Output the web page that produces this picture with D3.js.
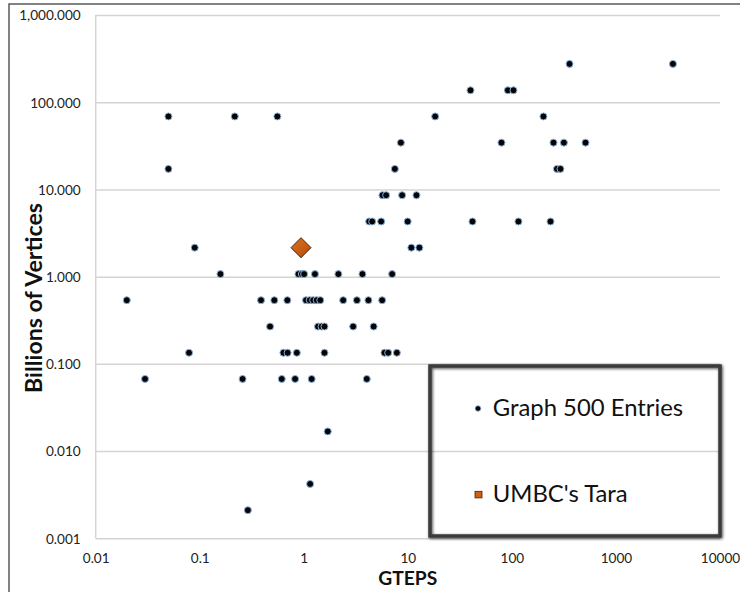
<!DOCTYPE html>
<html>
<head>
<meta charset="utf-8">
<script src="https://cdn.jsdelivr.net/npm/d3@7"></script>
<style>
  html, body { margin: 0; padding: 0; background: #fff; }
  svg { display: block; }
</style>
</head>
<body>
<svg id="chart" width="740" height="592"></svg>
<script>
// ---- Data ----
const g500Gteps = [
  358, 3530,
  40, 91.5, 103.5,
  0.05, 0.217, 0.557, 18.3, 201,
  8.57, 79.4, 251, 316, 510,
  0.05, 7.5, 271, 293,
  5.7, 6.18, 8.81, 12.1,
  4.25, 4.54, 5.54, 9.96, 41.8, 115.6, 235,
  0.0895, 10.8, 12.9,
  0.158, 0.888, 0.957, 1.007, 1.28, 2.15, 3.66, 7.06,
  0.0199, 0.388, 0.521, 0.695, 1.05, 1.14, 1.23, 1.33, 1.44, 2.39, 3.24, 4.18, 5.66,
  0.474, 1.37, 1.48, 1.58, 2.98, 4.69,
  0.0789, 0.637, 0.699, 0.857, 1.58, 5.96, 6.47, 7.84,
  0.0298, 0.258, 0.614, 0.825, 1.19, 4.03,
  1.70,
  1.15,
  0.29
];
const g500Vertices = [
  275, 275,
  137, 137, 137,
  68.7, 68.7, 68.7, 68.7, 68.7,
  34.4, 34.4, 34.4, 34.4, 34.4,
  17.2, 17.2, 17.2, 17.2,
  8.59, 8.59, 8.59, 8.59,
  4.29, 4.29, 4.29, 4.29, 4.29, 4.29, 4.29,
  2.15, 2.15, 2.15,
  1.07, 1.07, 1.07, 1.07, 1.07, 1.07, 1.07, 1.07,
  0.537, 0.537, 0.537, 0.537, 0.537, 0.537, 0.537, 0.537, 0.537, 0.537, 0.537, 0.537, 0.537,
  0.268, 0.268, 0.268, 0.268, 0.268, 0.268,
  0.134, 0.134, 0.134, 0.134, 0.134, 0.134, 0.134, 0.134,
  0.0671, 0.0671, 0.0671, 0.0671, 0.0671, 0.0671,
  0.0168,
  0.0042,
  0.0021
];
const taraGteps = [0.94];
const taraVertices = [2.15];

const xTicks = [0.01, 0.1, 1, 10, 100, 1000, 10000];
const xTickLabels = ["0.01", "0.1", "1", "10", "100", "1000", "10000"];
const yTicks = [0.001, 0.01, 0.1, 1, 10, 100, 1000];
const seriesNames = ["Graph 500 Entries", "UMBC's Tara"];
const xTitle = "GTEPS";
const yTitle = "Billions of Vertices";

// ---- Chart ----
(function () {
const FONT = "Lato, 'Open Sans', 'Liberation Sans', sans-serif";
const svg = d3.select("#chart");
const pL = 95.7, pR = 720, pT = 15, pB = 538.3;

const x = d3.scaleLog().domain([0.01, 10000]).range([pL, pR]);
const y = d3.scaleLog().domain([0.001, 1000]).range([pB, pT]);

// outer chart border
svg.append("rect")
  .attr("x", 9).attr("y", 4).attr("width", 760).attr("height", 620)
  .attr("fill", "#fff").attr("stroke", "#5a5a5a").attr("stroke-width", 1.5);

// defs: shadow for legend
const defs = svg.append("defs");
const filt = defs.append("filter").attr("id", "shadow")
  .attr("x", "-10%").attr("y", "-10%").attr("width", "120%").attr("height", "120%");
filt.append("feGaussianBlur").attr("in", "SourceAlpha").attr("stdDeviation", 1.6).attr("result", "b");
filt.append("feOffset").attr("in", "b").attr("dx", 1).attr("dy", 1).attr("result", "o");
filt.append("feComponentTransfer").attr("in", "o").attr("result", "o2")
  .append("feFuncA").attr("type", "linear").attr("slope", 0.7);
const fm = filt.append("feMerge");
fm.append("feMergeNode").attr("in", "o2");
fm.append("feMergeNode").attr("in", "SourceGraphic");

// Y axis with gridlines
const yAxis = d3.axisLeft(y)
  .tickValues(yTicks)
  .tickFormat(d3.format(",.3f"))
  .tickSize(-(pR - pL))
  .tickPadding(15);
const gy = svg.append("g").attr("transform", `translate(${pL},0)`).call(yAxis);
gy.select(".domain").remove();
gy.selectAll(".tick line").attr("stroke", "#d4d4d4").attr("stroke-width", 1.5);
gy.selectAll(".tick text")
  .attr("font-family", FONT).attr("font-size", 13.6).attr("fill", "#222")
  .attr("dy", "0.36em");

// X axis (labels only, no tick marks)
const xAxis = d3.axisBottom(x)
  .tickValues(xTicks)
  .tickFormat((d, i) => xTickLabels[i])
  .tickSize(0)
  .tickPadding(0);
const gx = svg.append("g").attr("transform", `translate(0,${pB})`).call(xAxis);
gx.select(".domain").remove();
gx.selectAll(".tick text")
  .attr("font-family", FONT).attr("font-size", 13.6).attr("fill", "#222")
  .attr("y", 24.4).attr("dy", 0);

// left plot-area edge
svg.append("line")
  .attr("x1", pL).attr("x2", pL).attr("y1", pT).attr("y2", pB)
  .attr("stroke", "#d4d4d4").attr("stroke-width", 1.5);

function fitText(sel, target) {
  const node = sel.node();
  const fs = parseFloat(sel.attr("font-size"));
  const w = node.getComputedTextLength();
  if (w > 0) sel.attr("font-size", fs * target / w);
}

// axis titles
const xt = svg.append("text")
  .attr("x", (pL + pR) / 2).attr("y", 584.5)
  .attr("text-anchor", "middle")
  .attr("font-family", FONT).attr("font-weight", 700).attr("font-size", 20)
  .attr("fill", "#111").text(xTitle);
fitText(xt, 59);

const yt = svg.append("text")
  .attr("transform", "translate(42,298) rotate(-90)")
  .attr("text-anchor", "middle")
  .attr("font-family", FONT).attr("font-weight", 700).attr("font-size", 20)
  .attr("fill", "#111").text(yTitle);
fitText(yt, 190);

// Graph 500 points
const pts = g500Gteps.map((g, i) => ({ g, v: g500Vertices[i] }));
svg.append("g").selectAll("circle").data(pts).join("circle")
  .attr("cx", d => x(d.g)).attr("cy", d => y(d.v))
  .attr("r", 3.5)
  .attr("fill", "#050505")
  .attr("stroke", "#8db3e2").attr("stroke-width", 1);

// Tara diamond
const tara = taraGteps.map((g, i) => ({ g, v: taraVertices[i] }));
const dSize = 10;
const grad = defs.append("linearGradient").attr("id", "tgrad")
  .attr("x1", "0").attr("y1", "0").attr("x2", "1").attr("y2", "1");
grad.append("stop").attr("offset", "0").attr("stop-color", "#e07020");
grad.append("stop").attr("offset", "1").attr("stop-color", "#b04f0c");
svg.append("g").selectAll("path").data(tara).join("path")
  .attr("transform", d => `translate(${x(d.g)},${y(d.v)})`)
  .attr("d", `M0,${-dSize}L${dSize},0L0,${dSize}L${-dSize},0Z`)
  .attr("fill", "url(#tgrad)")
  .attr("stroke", "#4a2205").attr("stroke-width", 1);

// Legend
const lg = svg.append("g");
lg.append("rect")
  .attr("x", 430).attr("y", 366).attr("width", 290).attr("height", 170)
  .attr("fill", "none").attr("stroke", "#3a3a3a").attr("stroke-width", 3.5)
  .attr("filter", "url(#shadow)");
lg.append("circle").attr("cx", 478).attr("cy", 408.5).attr("r", 2.8)
  .attr("fill", "#050505").attr("stroke", "#8db3e2").attr("stroke-width", 0.8);
lg.append("rect").attr("x", 475).attr("y", 491.3).attr("width", 7).attr("height", 6.6)
  .attr("fill", "#d0600f").attr("stroke", "#4a2205").attr("stroke-width", 0.8);
const l1 = lg.append("text").attr("x", 492.7).attr("y", 416)
  .attr("font-family", FONT).attr("font-size", 24).attr("fill", "#111")
  .text(seriesNames[0]);
const s0 = parseFloat(l1.attr("font-size"));
fitText(l1, 190.6);
const ratio = parseFloat(l1.attr("font-size")) / s0;
lg.append("text").attr("x", 492.7).attr("y", 502)
  .attr("font-family", FONT).attr("font-size", 24 * ratio).attr("fill", "#111")
  .text(seriesNames[1]);
})();
</script>
</body>
</html>
